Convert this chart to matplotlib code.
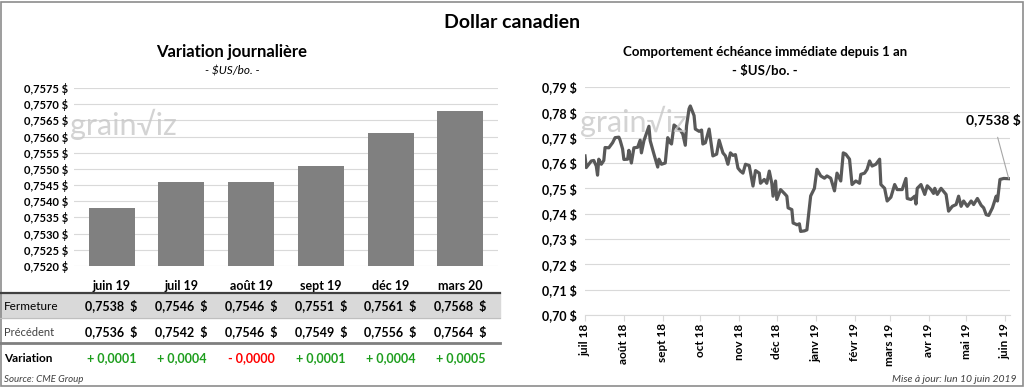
import numpy as np
import pandas as pd
import matplotlib
matplotlib.use("Agg")
import matplotlib.pyplot as plt
import matplotlib.dates as mdates
from matplotlib.patches import Rectangle
from matplotlib.lines import Line2D

plt.rcParams['font.family'] = ['Lato', 'DejaVu Sans']

# --- données: variation journalière ---
contrats = ['juin 19', 'juil 19', 'août 19', 'sept 19', 'déc 19', 'mars 20']
fermeture = [0.7538, 0.7546, 0.7546, 0.7551, 0.7561, 0.7568]
precedent = [0.7536, 0.7542, 0.7546, 0.7549, 0.7556, 0.7564]
variation = ['+ 0,0001', '+ 0,0004', '- 0,0000', '+ 0,0001', '+ 0,0004', '+ 0,0005']
var_signe = [1, 1, -1, 1, 1, 1]

# --- données: échéance immédiate depuis 1 an (jours depuis 2018-07-01) ---
jours = [0, 1, 5, 7, 9, 10, 11, 13, 15, 16, 19, 22, 24, 27, 28, 30, 31, 34, 35, 37,
         39, 42, 44, 45, 47, 51, 52, 55, 58, 59, 61, 64, 66, 68, 69, 71, 74, 76, 78, 80,
         81, 83, 84, 87, 88, 91, 93, 94, 96, 99, 102, 105, 107, 110, 112, 114, 116, 118, 120, 122,
         124, 126, 128, 131, 134, 136, 139, 140, 143, 145, 147, 149, 150, 152, 153, 156, 159, 161, 162, 165,
         166, 168, 169, 171, 172, 175, 177, 180, 183, 185, 188, 191, 193, 196, 199, 201, 204, 206, 208, 211,
         213, 216, 219, 220, 223, 225, 227, 229, 232, 235, 236, 239, 241, 244, 247, 249, 253, 256, 257, 260,
         263, 264, 265, 268, 271, 273, 276, 278, 279, 281, 284, 288, 290, 293, 296, 298, 300, 302, 305, 308,
         310, 313, 316, 318, 320, 322, 325, 328, 329, 331, 334, 338]
cours = [0.7628, 0.7582, 0.7608, 0.7610, 0.7588, 0.7552, 0.7615, 0.7595, 0.7610, 0.7661,
         0.7660, 0.7680, 0.7700, 0.7702, 0.7690, 0.7655, 0.7614, 0.7615, 0.7650, 0.7600,
         0.7660, 0.7662, 0.7690, 0.7640, 0.7688, 0.7745, 0.7688, 0.7635, 0.7584, 0.7615,
         0.7595, 0.7600, 0.7700, 0.7680, 0.7675, 0.7750, 0.7738, 0.7730, 0.7714, 0.7670,
         0.7747, 0.7814, 0.7825, 0.7787, 0.7734, 0.7725, 0.7730, 0.7675, 0.7680, 0.7734,
         0.7628, 0.7635, 0.7690, 0.7640, 0.7628, 0.7595, 0.7640, 0.7630, 0.7633, 0.7580,
         0.7568, 0.7560, 0.7595, 0.7590, 0.7509, 0.7570, 0.7560, 0.7520, 0.7535, 0.7520,
         0.7568, 0.7520, 0.7469, 0.7529, 0.7456, 0.7495, 0.7480, 0.7469, 0.7423, 0.7416,
         0.7363, 0.7359, 0.7356, 0.7360, 0.7330, 0.7332, 0.7336, 0.7470, 0.7500, 0.7575,
         0.7549, 0.7540, 0.7549, 0.7540, 0.7490, 0.7560, 0.7529, 0.7640, 0.7635, 0.7615,
         0.7515, 0.7529, 0.7520, 0.7555, 0.7560, 0.7575, 0.7608, 0.7588, 0.7595, 0.7615,
         0.7515, 0.7500, 0.7450, 0.7465, 0.7515, 0.7495, 0.7495, 0.7539, 0.7460, 0.7456,
         0.7469, 0.7438, 0.7500, 0.7515, 0.7476, 0.7510, 0.7495, 0.7480, 0.7500, 0.7476,
         0.7500, 0.7476, 0.7410, 0.7429, 0.7436, 0.7469, 0.7429, 0.7450, 0.7429, 0.7450,
         0.7436, 0.7460, 0.7433, 0.7423, 0.7396, 0.7393, 0.7423, 0.7469, 0.7450, 0.7535,
         0.7539, 0.7538]
mois = ['juil 18', 'août 18', 'sept 18', 'oct 18', 'nov 18', 'déc 18',
        'janv 19', 'févr 19', 'mars 19', 'avr 19', 'mai 19', 'juin 19']
dernier = '0,7538 $'

W, H = 1024, 388
def fx(px):
    return px / W
def fy(py):
    return 1 - py / H

fig = plt.figure(figsize=(W / 100, H / 100), dpi=100)
fig.patch.set_facecolor('white')

# cadre
fig.add_artist(Rectangle((fx(1), fy(386)), fx(1022), 384 / H, fill=False,
                         edgecolor='#8c8c8c', lw=1.2, transform=fig.transFigure))

fig.text(fx(512), fy(22), 'Dollar canadien', ha='center', va='center',
         fontsize=14, fontweight='bold')

# ---------- graphique de gauche ----------
ax1 = fig.add_axes([fx(74), fy(266), fx(498) - fx(74), fy(88) - fy(266)])
x = np.arange(len(contrats))
ax1.bar(x, np.array(fermeture) - 0.7520, bottom=0.7520, width=0.66, color='#808080', zorder=3)
ax1.set_ylim(0.7520, 0.7575)
ax1.set_xlim(-0.54, len(contrats) - 0.46)
yt = np.arange(0.7520, 0.75751, 0.0005)
ax1.set_yticks(yt)
ax1.set_yticklabels([('%.4f $' % v).replace('.', ',') for v in yt], fontsize=8, fontweight='bold')
ax1.set_xticks([])
ax1.grid(axis='y', color='#d9d9d9', lw=0.8, zorder=0)
for s in ax1.spines.values():
    s.set_visible(False)
ax1.tick_params(axis='y', length=0, pad=4)

fig.text(fx(232), fy(52), 'Variation journalière', ha='center', va='center',
         fontsize=12, fontweight='bold')
fig.text(fx(232), fy(71), '- $US/bo. -', ha='center', va='center',
         fontsize=8.5, style='italic')
fig.text(fx(70), fy(124), 'grain\u221Aiz', ha='left', va='center', fontsize=22,
         color='#c8c8c8', alpha=0.8)

# tableau
fig.add_artist(Rectangle((0, fy(318)), fx(500), 25 / H, color='#d9d9d9',
                         transform=fig.transFigure, zorder=0))
fig.add_artist(Line2D([0, fx(500)], [fy(293), fy(293)], color='#404040', lw=1.6))
fig.add_artist(Line2D([0, fx(500)], [fy(318), fy(318)], color='#bfbfbf', lw=0.8))
fig.add_artist(Line2D([0, fx(500)], [fy(343), fy(343)], color='#7f7f7f', lw=2.0))

cx = ax1.transData.transform(np.column_stack([x, np.zeros(len(x)) + 0.7520]))[:, 0]
cx = fig.transFigure.inverted().transform(np.column_stack([cx, np.zeros(len(cx))]))[:, 0]
for i in range(len(contrats)):
    fig.text(cx[i], fy(286), contrats[i], ha='center', va='center', fontsize=9, fontweight='bold')
    fig.text(cx[i], fy(306), ('%.4f  $' % fermeture[i]).replace('.', ','), ha='center',
             va='center', fontsize=9, fontweight='bold')
    fig.text(cx[i], fy(332), ('%.4f  $' % precedent[i]).replace('.', ','), ha='center',
             va='center', fontsize=9, fontweight='bold')
    fig.text(cx[i], fy(358), variation[i], ha='center', va='center', fontsize=9,
             fontweight='bold', color='#1e9e1e' if var_signe[i] > 0 else '#ff0000')

fig.text(fx(4), fy(306), 'Fermeture', ha='left', va='center', fontsize=8.5)
fig.text(fx(4), fy(332), 'Précédent', ha='left', va='center', fontsize=8, color='#404040')
fig.text(fx(4), fy(358), 'Variation', ha='left', va='center', fontsize=8.5, fontweight='bold')
fig.text(fx(4), fy(379), 'Source: CME Group', ha='left', va='center', fontsize=7,
         style='italic', color='#404040')

# ---------- graphique de droite ----------
debut = pd.Timestamp('2018-07-01')
dates = debut + pd.to_timedelta(jours, unit='D')
ax2 = fig.add_axes([fx(585), fy(315), fx(1010) - fx(585), fy(87) - fy(315)])
ax2.plot(dates, cours, color='#595959', lw=2.3, zorder=3)
ax2.set_ylim(0.70, 0.79)
ax2.set_xlim(debut, debut + pd.Timedelta(days=339))
yt2 = np.arange(0.70, 0.7901, 0.01)
ax2.set_yticks(yt2)
ax2.set_yticklabels([('%.2f $' % v).replace('.', ',') for v in yt2], fontsize=9, fontweight='bold')
ax2.xaxis.set_major_locator(mdates.MonthLocator())
ax2.set_xticks(ax2.get_xticks())
ax2.set_xticklabels(mois, rotation=90, fontsize=8.5, fontweight='bold')
ax2.grid(axis='y', color='#d9d9d9', lw=0.8, zorder=0)
for s in ['top', 'right', 'left']:
    ax2.spines[s].set_visible(False)
ax2.spines['bottom'].set_color('#d9d9d9')
ax2.tick_params(axis='y', length=0, pad=6)
ax2.tick_params(axis='x', length=4, color='#d9d9d9', pad=2)

ax2.annotate(dernier, xy=(dates[-1], cours[-1]), xytext=(fx(993), fy(120)),
             textcoords='figure fraction', ha='center', va='center', fontsize=10,
             fontweight='bold', arrowprops=dict(arrowstyle='-', color='#a6a6a6', lw=0.8,
                                                shrinkA=6, shrinkB=0))

fig.text(fx(765), fy(52), 'Comportement échéance immédiate depuis 1 an', ha='center',
         va='center', fontsize=9.5, fontweight='bold')
fig.text(fx(765), fy(71), '- $US/bo. -', ha='center', va='center', fontsize=9.5,
         fontweight='bold')
fig.text(fx(580), fy(121), 'grain\u221Aiz', ha='left', va='center', fontsize=22,
         color='#c8c8c8', alpha=0.8)

fig.text(fx(1016), fy(379), 'Mise à jour: lun 10 juin 2019', ha='right', va='center',
         fontsize=7.5, style='italic', color='#404040')

fig.savefig('out.png', dpi=100)
